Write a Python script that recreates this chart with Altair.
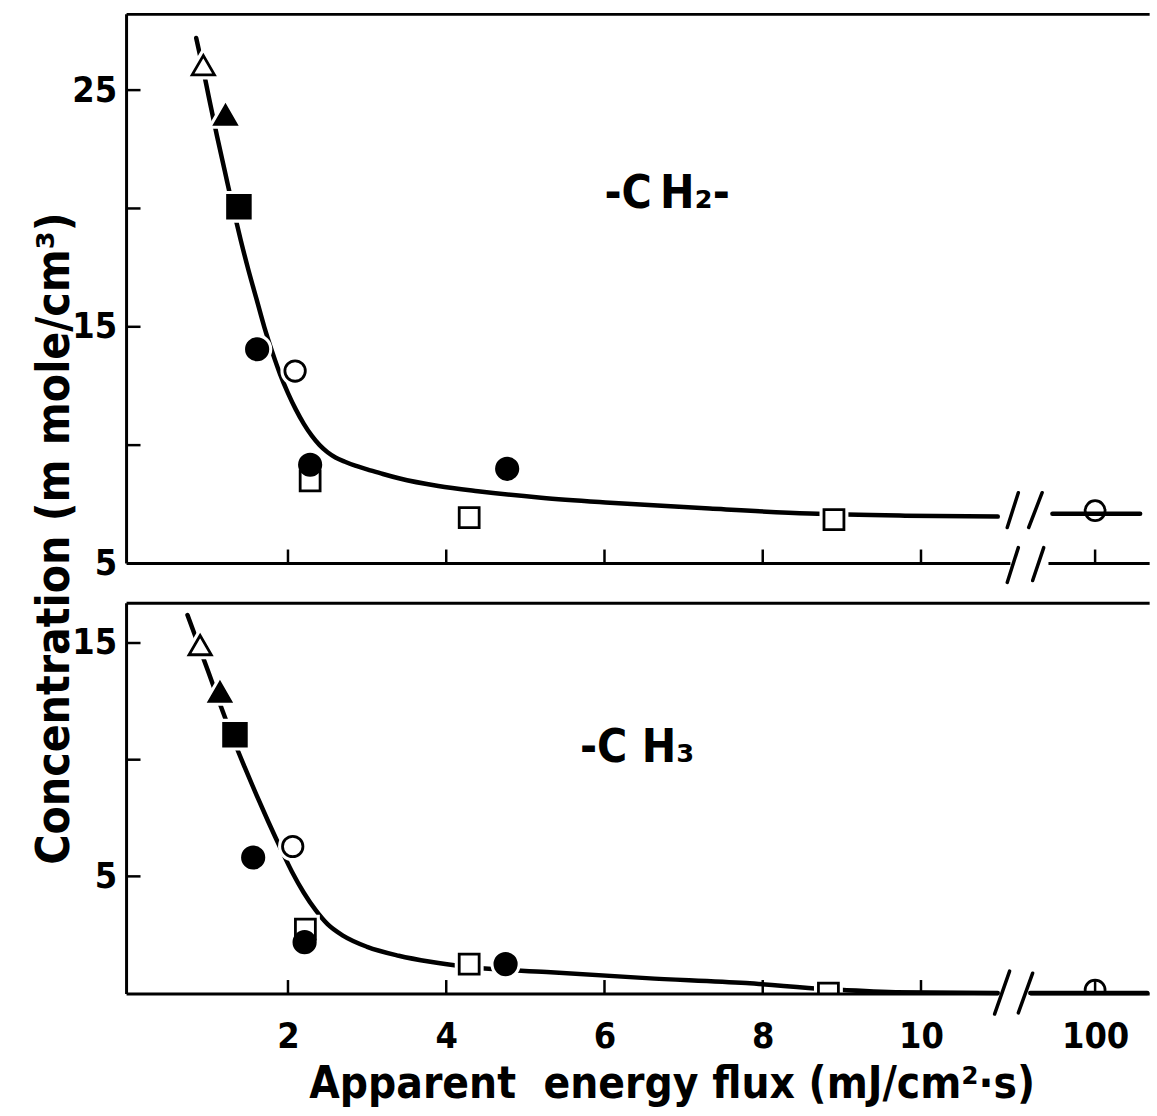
import altair as alt
import pandas as pd

FONT = "DejaVu Sans Condensed, DejaVu Sans"

# ---------------- values ----------------
KINDS = ["open triangle", "filled triangle", "filled square", "filled circle",
         "open circle", "open square", "crossed circle"]

# -CH2- panel (concentration, mmole/cm3)
ch2_x = [0.93, 1.21, 1.38, 1.61, 2.09, 2.28, 2.28, 4.29, 4.77, 8.90, 100]
ch2_y = [26.05, 23.95, 20.07, 14.05, 13.13, 8.49, 9.17, 6.94, 9.00, 6.85, 7.23]
ch2_kind = ["open triangle", "filled triangle", "filled square", "filled circle",
            "open circle", "open square", "filled circle", "open square",
            "filled circle", "open square", "crossed circle"]
ch2_curve_x = [0.84, 0.92, 1.0, 1.1, 1.2, 1.3, 1.4, 1.5, 1.6, 1.7, 1.8, 1.9, 2.0,
               2.1, 2.2, 2.3, 2.4, 2.5, 2.6, 2.72, 2.85, 3.0, 3.2, 3.4, 3.9, 4.4,
               5.2, 6.07, 7.33, 8.59, 9.8, 10.97]
ch2_curve_y = [27.2, 26.0, 24.7, 23.1, 21.6, 20.1, 18.7, 17.4, 16.2, 15.0, 13.95,
               13.0, 12.2, 11.5, 10.9, 10.4, 10.0, 9.7, 9.48, 9.3, 9.13, 8.98,
               8.78, 8.6, 8.27, 8.05, 7.78, 7.57, 7.32, 7.11, 7.02, 6.98]
ch2_curve_right_x = [99.46, 100.57]
ch2_curve_right_y = [7.10, 7.10]

# -CH3 panel
ch3_x = [0.89, 1.14, 1.33, 1.56, 2.06, 2.22, 2.21, 4.29, 4.75, 8.83, 100]
ch3_y = [14.91, 12.90, 11.07, 5.81, 6.28, 2.74, 2.18, 1.24, 1.24, 0.0, 0.13]
ch3_kind = ["open triangle", "filled triangle", "filled square", "filled circle",
            "open circle", "open square", "filled circle", "open square",
            "filled circle", "open square", "crossed circle"]
ch3_curve_x = [0.73, 0.85, 1.0, 1.15, 1.3, 1.45, 1.6, 1.75, 1.9, 2.05, 2.2, 2.35,
               2.5, 2.7, 3.0, 3.4, 3.8, 4.25, 5.27, 6.53, 7.79, 8.8, 9.68, 10.97]
ch3_curve_y = [16.2, 15.1, 13.7, 12.3, 10.95, 9.7, 8.5, 7.35, 6.25, 5.2, 4.3, 3.55,
               2.95, 2.45, 1.98, 1.6, 1.34, 1.13, 0.90, 0.64, 0.43, 0.17, 0.04, 0.0]
ch3_curve_right_x = [99.18, 100.66]
ch3_curve_right_y = [0.0, 0.0]

x_tick_values = [2, 4, 6, 8, 10, 100]
ch2_y_ticks = [10, 15, 20, 25]
ch2_y_labels = [5, 15, 25]
ch3_y_ticks = [5, 10, 15]
ch3_y_labels = [5, 15]

X_TITLE = "Apparent\u00a0\u00a0energy flux (mJ/cm\u00b2\u00b7s)"
Y_TITLE = "Concentration (m mole/cm\u00b3)"

# ---------------- layout / style ----------------
X_DOMAIN = [-0.04, 11.3, 99.1, 100.72]     # broken axis: piecewise linear scale
X_RANGE = [0, 900.4, 900.5, 1029]
W = 1029
Y_TOP = [5, 28.2]
Y_BOT = [-0.04, 16.7]
H_TOP = 551
H_BOT = 392
X_END = 100.69

SHAPES = ["triangle-up", "triangle-up", "square", "circle", "circle", "square", "circle"]
FILLS = ["white", "black", "black", "black", "white", "white", "rgba(0,0,0,0)"]
SIZES = [500, 470, 520, 460, 420, 400, 400]


def panel(px, py, pk, cx, cy, crx, cry, ydom, height, ytick_vals, ylabel_vals,
          x_axis, xbreak_left, xbreak_right, slashes, label_text, label_x, label_y,
          clip_points, extra=None):
    xs = alt.Scale(domain=X_DOMAIN, range=X_RANGE, nice=False, zero=False)
    ys = alt.Scale(domain=ydom, nice=False, zero=False)
    yax = alt.Axis(values=ylabel_vals, title=None, labelPadding=10,
                   labelOverlap=False)

    def X(f):
        return alt.X(f, type="quantitative", scale=xs, axis=x_axis)

    def Y(f):
        return alt.Y(f, type="quantitative", scale=ys, axis=yax)

    curve = pd.DataFrame({
        "x": cx + crx,
        "y": cy + cry,
        "seg": ["left"] * len(cx) + ["right"] * len(crx),
    })
    pts = pd.DataFrame({"x": px, "y": py, "kind": pk})

    shape_sc = alt.Scale(domain=KINDS, range=SHAPES)
    size_sc = alt.Scale(type="ordinal", domain=KINDS, range=SIZES)
    fill_sc = alt.Scale(domain=KINDS, range=FILLS)

    line = alt.Chart(curve).mark_line(
        color="black", strokeWidth=4.5, interpolate="monotone", strokeCap="round"
    ).encode(x=X("x"), y=Y("y"), detail="seg:N")

    halo = alt.Chart(pts).transform_filter(
        "datum.kind != 'crossed circle'"
    ).mark_point(filled=True, opacity=1, fill="white", stroke="white",
                 strokeWidth=9, clip=clip_points).encode(
        x=X("x"), y=Y("y"),
        shape=alt.Shape("kind:N", scale=shape_sc, legend=None),
        size=alt.Size("kind:N", scale=size_sc, legend=None),
    )

    marks = alt.Chart(pts).mark_point(
        filled=True, opacity=1, stroke="black", strokeWidth=2.8, clip=clip_points
    ).encode(
        x=X("x"), y=Y("y"),
        shape=alt.Shape("kind:N", scale=shape_sc, legend=None),
        size=alt.Size("kind:N", scale=size_sc, legend=None),
        fill=alt.Fill("kind:N", scale=fill_sc, legend=None),
    )

    y0, y1 = ydom
    frame = pd.DataFrame({
        "x":  [X_DOMAIN[0], X_DOMAIN[0], X_DOMAIN[0], xbreak_right],
        "x2": [X_END, X_DOMAIN[0], xbreak_left, X_END],
        "y":  [y1, y0, y0, y0],
        "y2": [y1, y1, y0, y0],
    })
    frames = alt.Chart(frame).mark_rule(color="black", strokeWidth=3).encode(
        x=X("x"), x2="x2", y=Y("y"), y2="y2")

    sl = pd.DataFrame(slashes, columns=["x", "x2", "y", "y2"])
    slash = alt.Chart(sl).mark_rule(color="black", strokeWidth=3.5,
                                    strokeCap="round").encode(
        x=X("x"), x2="x2", y=Y("y"), y2="y2")

    xt = alt.Chart(pd.DataFrame({"x": x_tick_values})).mark_rule(
        color="black", strokeWidth=2.5).encode(
        x=X("x"), y=alt.value(height), y2=alt.value(height - 14))
    yt = alt.Chart(pd.DataFrame({"y": ytick_vals})).mark_rule(
        color="black", strokeWidth=2.5).encode(
        y=Y("y"), x=alt.value(0), x2=alt.value(14))

    lab = alt.Chart(pd.DataFrame({"x": [label_x], "y": [label_y], "t": [label_text]})
                    ).mark_text(font=FONT, fontSize=46, fontWeight="bold",
                                align="left", baseline="alphabetic",
                                color="black").encode(
        x=X("x"), y=Y("y"), text="t:N")

    layers = [line, halo, marks, frames, xt, yt, slash, lab]
    if extra is not None:
        layers.append(extra)
    return alt.layer(*layers).properties(width=W, height=height)


ytitle = alt.Chart(pd.DataFrame({"t": [Y_TITLE]})).mark_text(
    font=FONT, fontSize=46, fontWeight="bold", angle=270, align="center",
    baseline="alphabetic", color="black").encode(
    text="t:N", x=alt.value(-58), y=alt.value(526))

top = panel(
    ch2_x, ch2_y, ch2_kind, ch2_curve_x, ch2_curve_y,
    ch2_curve_right_x, ch2_curve_right_y, Y_TOP, H_TOP, ch2_y_ticks, ch2_y_labels,
    None, 11.13, 99.41,
    [[11.09, 11.23, 6.52, 7.99], [99.16, 99.33, 6.52, 7.99],
     [11.09, 11.23, 4.20, 5.67], [99.21, 99.35, 4.28, 5.67]],
    "-C\u2009H\u2082-", 6.0, 20.03, False, extra=ytitle)

bottom = panel(
    ch3_x, ch3_y, ch3_kind, ch3_curve_x, ch3_curve_y,
    ch3_curve_right_x, ch3_curve_right_y, Y_BOT, H_BOT, ch3_y_ticks, ch3_y_labels,
    alt.Axis(values=x_tick_values, title=X_TITLE, labelPadding=26,
             titlePadding=8, titleX=547, labelOverlap=False, labelFlush=False),
    10.98, 99.18,
    [[10.93, 11.12, -0.90, 0.94], [11.23, 99.21, -0.85, 0.85]],
    "-C H\u2083", 5.69, 9.91, True)

chart = alt.vconcat(top, bottom, spacing=40).properties(
    bounds="flush",
    padding={"left": 31, "top": 10.5, "right": 0, "bottom": 3},
).configure_view(stroke=None).configure_axis(
    labelFont=FONT, titleFont=FONT, labelColor="black", titleColor="black",
    labelFontSize=36, labelFontWeight="bold", titleFontSize=44,
    titleFontWeight="bold", grid=False, domain=False, ticks=False,
)

chart.save("out.html", embed_options={"renderer": "svg", "actions": False})
